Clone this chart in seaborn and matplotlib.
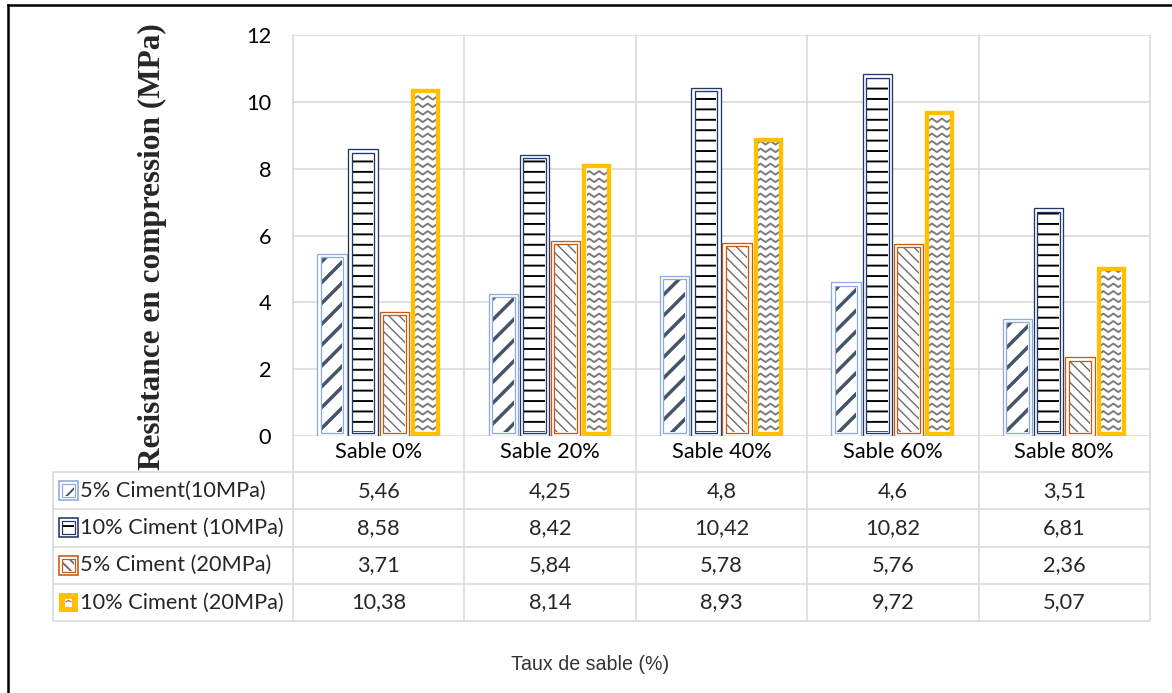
import numpy as np
import pandas as pd
import seaborn as sns
import matplotlib.pyplot as plt
import matplotlib.colors as mcolors
from matplotlib.patches import Rectangle
from matplotlib.collections import LineCollection

# data
categories = ['Sable 0%', 'Sable 20%', 'Sable 40%', 'Sable 60%', 'Sable 80%']
series = ['5% Ciment(10MPa)', '10% Ciment (10MPa)', '5% Ciment (20MPa)', '10% Ciment (20MPa)']
ciment5_10 = [5.46, 4.25, 4.8, 4.6, 3.51]
ciment10_10 = [8.58, 8.42, 10.42, 10.82, 6.81]
ciment5_20 = [3.71, 5.84, 5.78, 5.76, 2.36]
ciment10_20 = [10.38, 8.14, 8.93, 9.72, 5.07]
yticks = [0, 2, 4, 6, 8, 10, 12]

edge_colors = ['#8faadc', '#203864', '#c55a11', '#ffc000']
hatch_colors = ['#44546a', '#000000', '#6e6e6e', '#7a7a7a']
hatches = ['//', '--', '\\\\\\\\', None]
hatch_lw = [2.0, 1.1, 0.8, 0.8]
grid_c = '#d9d9d9'

W, H, DPI = 1172, 693, 125
L, R, T, B = 293, 1150, 35, 436
PX = 72 / DPI  # one pixel in points

sns.set_style('white')
plt.rcParams['font.family'] = ['Lato', 'DejaVu Sans']
plt.rcParams['hatch.linewidth'] = 1.1

df = pd.DataFrame({
    'Taux': categories * 4,
    'Serie': np.repeat(series, len(categories)),
    'Resistance': ciment5_10 + ciment10_10 + ciment5_20 + ciment10_20,
})

fig = plt.figure(figsize=(W / DPI, H / DPI), dpi=DPI)
bg = fig.add_axes([0, 0, 1, 1], zorder=0)
bg.set_xlim(0, W)
bg.set_ylim(H, 0)
bg.axis('off')

ax = fig.add_axes([L / W, 1 - B / H, (R - L) / W, (B - T) / H], zorder=1)
ax.patch.set_alpha(0)

sns.barplot(data=df, x='Taux', y='Resistance', hue='Serie', order=categories,
            hue_order=series, palette=dict(zip(series, edge_colors)),
            width=0.728, gap=0.06, saturation=1, errorbar=None, legend=False, ax=ax)

ax.set_xlim(-0.5, len(categories) - 0.5)
ax.set_ylim(0, 12)
ax.set_yticks(yticks)
ax.set_xlabel('')
ax.set_ylabel('')
ax.grid(axis='y', color=grid_c, lw=1.6 * PX)
ax.set_axisbelow(True)
for s in ax.spines.values():
    s.set_visible(False)
ax.tick_params(axis='y', length=0, pad=12.5, labelsize=12.5, labelcolor='black')
ax.tick_params(axis='x', length=0, pad=3.5, labelsize=12.5, labelcolor='black')

dx = len(categories) / (R - L)
dy = 12 / (B - T)


def chevrons(x0, y0, w, h, clip):
    period, amp, step = 10 * dx, 3.5 * dy, 7.5 * dy
    segs = []
    yy = y0 + 2 * dy
    while yy < y0 + h:
        n = int(w / (period / 2)) + 3
        xs = x0 - period / 4 + np.arange(n) * period / 2
        ys = yy + np.where(np.arange(n) % 2 == 1, amp, 0)
        segs.append(np.column_stack([xs, ys]))
        yy += step
    lc = LineCollection(segs, colors='#7a7a7a', linewidths=1.1, zorder=2.5)
    ax.add_collection(lc)
    lc.set_clip_path(clip)


for p in list(ax.patches):
    i = edge_colors.index(mcolors.to_hex(p.get_facecolor()))
    x0, w, h = p.get_x(), p.get_width(), p.get_height()
    p.set_facecolor('white')
    p.set_zorder(2)
    if i < 3:
        p.set_edgecolor(edge_colors[i])
        p.set_linewidth(1.3 * PX)
        hr = Rectangle((x0 + 4.3 * dx, 4.3 * dy), w - 8.6 * dx, h - 8.6 * dy,
                       facecolor='white', edgecolor=hatch_colors[i], lw=0,
                       hatch=hatches[i], zorder=2.2)
        if hasattr(hr, 'set_hatch_linewidth'):
            hr.set_hatch_linewidth(hatch_lw[i])
        ax.add_patch(hr)
        ax.add_patch(Rectangle((x0 + 3.4 * dx, 3.4 * dy), w - 6.8 * dx, h - 6.8 * dy,
                               fill=False, edgecolor=edge_colors[i], lw=1.3 * PX, zorder=3))
    else:
        p.set_linewidth(0)
        hr = Rectangle((x0 + 4.4 * dx, 4.4 * dy), w - 8.8 * dx, h - 8.8 * dy,
                       facecolor='white', lw=0, zorder=2.2)
        ax.add_patch(hr)
        chevrons(x0 + 4.4 * dx, 4.4 * dy, w - 8.8 * dx, h - 8.8 * dy, hr)
        ax.add_patch(Rectangle((x0 + 2.2 * dx, 2.2 * dy), w - 4.4 * dx, h - 4.4 * dy,
                               fill=False, edgecolor=edge_colors[i], lw=4.4 * PX, zorder=3))

# data table under the chart
tab_l, row0, row_h = 53, 472, 37.25
rows = [row0 + k * row_h for k in range(len(series) + 1)]
col_x = [L + k * (R - L) / len(categories) for k in range(len(categories) + 1)]
for y in rows:
    bg.plot([tab_l, R], [y, y], color=grid_c, lw=1.6 * PX, solid_capstyle='butt')
bg.plot([tab_l, tab_l], [row0, rows[-1]], color=grid_c, lw=1.6 * PX)
for x in col_x:
    bg.plot([x, x], [T, rows[-1]], color=grid_c, lw=1.6 * PX)

values = [ciment5_10, ciment10_10, ciment5_20, ciment10_20]
for r, (name, vals) in enumerate(zip(series, values)):
    yc = rows[r] + row_h / 2
    bg.text(80, yc, name, fontsize=12.5, ha='left', va='center')
    for c, v in enumerate(vals):
        bg.text((col_x[c] + col_x[c + 1]) / 2, yc, str(v).replace('.', ','),
                fontsize=12.5, ha='center', va='center')
    # legend key
    kx, ky, ks = 59, yc - 9.5, 19
    if r < 3:
        bg.add_patch(Rectangle((kx, ky), ks, ks, facecolor='white',
                               edgecolor=edge_colors[r], lw=1.6 * PX))
        kr = Rectangle((kx + 4, ky + 4), ks - 8, ks - 8, facecolor='white',
                       edgecolor=hatch_colors[r], lw=0, hatch=hatches[r])
        bg.add_patch(kr)
        bg.add_patch(Rectangle((kx + 3, ky + 3), ks - 6, ks - 6, fill=False,
                               edgecolor=edge_colors[r], lw=1.2 * PX))
    else:
        bg.add_patch(Rectangle((kx, ky), ks, ks, facecolor=edge_colors[r], lw=0))
        bg.add_patch(Rectangle((kx + 6, ky + 6), ks - 12, ks - 11, facecolor='white', lw=0))
        bg.plot([kx + 7, kx + 9.5, kx + 12], [ky + 9, ky + 7.5, ky + 9], color='#7a7a7a', lw=1.2 * PX)

# titles
bg.text(152, 247, 'Resistance en compression (MPa)', rotation=90, ha='center', va='center',
        fontsize=18, fontweight='bold', family=['Liberation Serif', 'DejaVu Serif'])
bg.text(590, 665, 'Taux de sable (%)', ha='center', va='center', fontsize=11.3,
        color='#333333', family=['Liberation Sans', 'DejaVu Sans'])

# outer frame (top and left)
bg.plot([8, 8], [5, H + 5], color='black', lw=2.5 * PX, solid_capstyle='projecting')
bg.plot([8, W + 5], [5, 5], color='black', lw=2.5 * PX, solid_capstyle='projecting')

fig.savefig('out.png', dpi=DPI)
